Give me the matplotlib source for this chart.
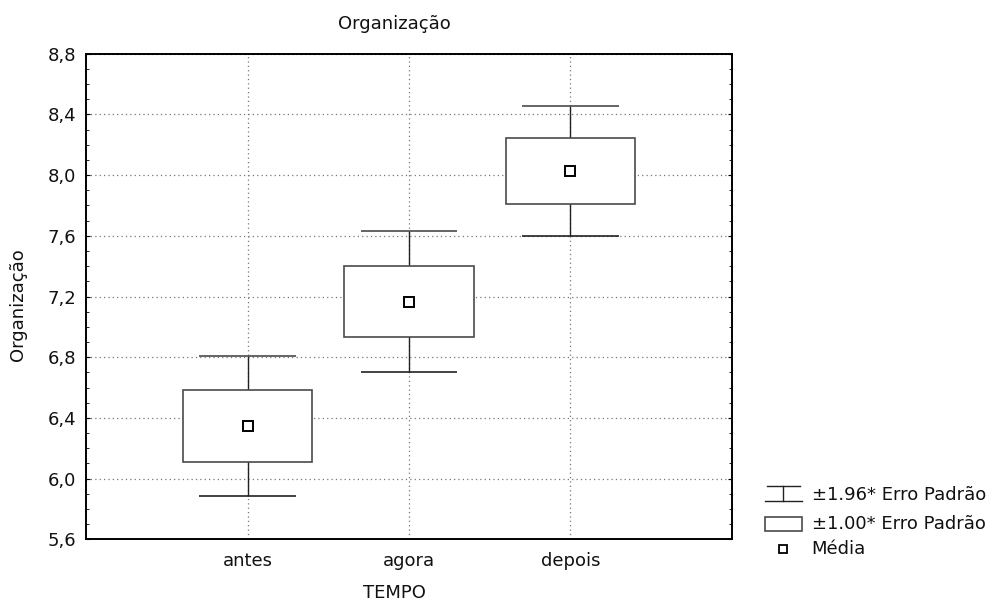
import numpy as np
import matplotlib
matplotlib.use("Agg")
import matplotlib.pyplot as plt
from matplotlib.ticker import FuncFormatter, MultipleLocator

plt.rcParams["font.family"] = ["DejaVu Sans"]
plt.rcParams["font.size"] = 13

# data
categorias = ["antes", "agora", "depois"]
media = [6.347, 7.167, 8.028]
erro_padrao = [0.235, 0.236, 0.219]
fator_ic = 1.96

titulo = "Organização"
rotulo_y = "Organização"
rotulo_x = "TEMPO"
legenda = ["±1.96* Erro Padrão", "±1.00* Erro Padrão", "Média"]

W, H = 997, 603
fig = plt.figure(figsize=(W / 100, H / 100), dpi=100)
ax = fig.add_axes([86.3 / W, 1 - 539.3 / H, (731.7 - 86.3) / W, (539.3 - 53.7) / H])

x = np.arange(1, len(categorias) + 1)
m = np.array(media)
se = np.array(erro_padrao)

box_col = "#4a4a4a"
# whiskers (behind box)
ax.vlines(x, m - fator_ic * se, m + fator_ic * se, color="#222222", lw=1.0, zorder=2)
ax.hlines(m + fator_ic * se, x - 0.3, x + 0.3, color=box_col, lw=1.2, zorder=2)
ax.hlines(m - fator_ic * se, x - 0.3, x + 0.3, color="#222222", lw=1.2, zorder=2)
# boxes
ax.bar(x, 2 * se, bottom=m - se, width=0.8, facecolor="white",
       edgecolor=box_col, linewidth=1.2, zorder=3)
# means
ax.plot(x, m, ls="none", marker="s", ms=7, mfc="white", mec="black", mew=1.4, zorder=4)

ax.set_xlim(0, 4)
ax.set_ylim(5.6, 8.8)
ax.set_xticks(x)
ax.set_xticklabels(categorias)
ax.yaxis.set_major_locator(MultipleLocator(0.4))
ax.yaxis.set_minor_locator(MultipleLocator(0.1))
ax.yaxis.set_major_formatter(FuncFormatter(lambda v, p: f"{v:.1f}".replace(".", ",")))
ax.tick_params(axis="y", which="both", direction="in", left=True, right=True, pad=7, labelcolor="#111111")
ax.tick_params(axis="y", which="major", length=3)
ax.tick_params(axis="y", which="minor", length=2)
ax.tick_params(axis="x", length=0, pad=9, labelcolor="#111111")

ax.set_axisbelow(True)
ax.grid(True, which="major", ls=(0, (1, 2.5)), color="#777777", lw=0.9)
for s in ax.spines.values():
    s.set_linewidth(1.4)
    s.set_color("black")

fig.text(394 / W, 1 - 29.3 / H, titulo, ha="center", va="baseline", color="#111111")
fig.text(394 / W, 1 - 598.3 / H, rotulo_x, ha="center", va="baseline", color="#111111")
fig.text(17.5 / W, 1 - 304.5 / H, rotulo_y, ha="center", va="center", rotation=90, color="#111111")

# legend drawn in pixel coordinates
lg = fig.add_axes([0, 0, 1, 1], facecolor="none")
lg.set_xlim(0, W)
lg.set_ylim(H, 0)
lg.axis("off")
x0, x1, xc = 765, 801.7, 783.3
lg.plot([x0 + 2, x1 - 2], [486.3, 486.3], color="#222222", lw=1.0)
lg.plot([x0, x1], [501.3, 501.3], color="#222222", lw=1.0)
lg.plot([xc, xc], [486.3, 501.3], color="#222222", lw=1.0)
lg.add_patch(plt.Rectangle((x0, 517.3), x1 - x0, 13.4, facecolor="white",
                           edgecolor=box_col, lw=1.2))
lg.plot([xc], [549], ls="none", marker="s", ms=5.5, mfc="white", mec="black", mew=1.3)
for yy, txt in zip([494.7, 524, 549], legenda):
    lg.text(811.7, yy, txt, ha="left", va="center", color="#111111")

fig.savefig("out.png", dpi=100, facecolor="white")
